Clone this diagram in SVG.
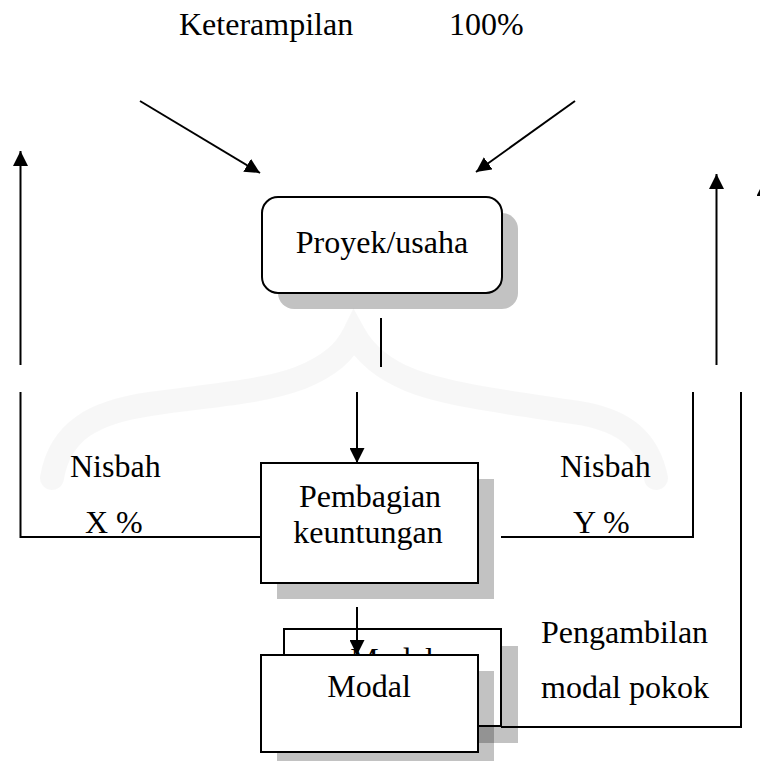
<svg xmlns="http://www.w3.org/2000/svg" width="760" height="761" viewBox="0 0 760 761">
  <style>
    .lbl { font-family: "Liberation Serif", "Times New Roman", serif; font-size: 32px; fill: #000; }
    .mid { text-anchor: middle; }
    .box { fill: #fff; stroke: #000; stroke-width: 2; }
    .shadow { fill: #000; fill-opacity: 0.24; stroke: none; }
    .wire { fill: none; stroke: #000; stroke-width: 2; }
    .arrow { fill: none; stroke: #000; stroke-width: 2; marker-end: url(#head); }
    .mark { fill: none; stroke: #000; stroke-opacity: 0.03; stroke-width: 24; stroke-linecap: round; }
  </style>
  <defs>
    <marker id="head" viewBox="0 0 15 15" refX="15" refY="7.5" markerWidth="15" markerHeight="15" markerUnits="userSpaceOnUse" orient="auto">
      <path d="M0,0 L15,7.5 L0,15 z" fill="#000"/>
    </marker>
    <clipPath id="back-visible">
      <rect x="284" y="629" width="217" height="26"/>
    </clipPath>
  </defs>

  <rect width="760" height="761" fill="#fff"/>

  <!-- faint background emblem -->
  <path class="mark" d="M52,478 C60,430 95,412 150,404 C220,394 262,392 300,378 C330,366 345,352 354,334 C364,352 380,368 410,380 C450,396 520,404 585,414 C625,422 648,440 656,478"/>

  <!-- top inputs -->
  <g id="input-labels">
    <text class="lbl" x="179" y="35">Keterampilan</text>
    <text class="lbl" x="449" y="35">100%</text>
  </g>

  <g id="proyek">
    <rect class="shadow" x="278" y="213" width="240" height="96" rx="16"/>
    <rect class="box" x="262" y="197" width="240" height="96" rx="16"/>
    <text class="lbl mid" x="382" y="253">Proyek/usaha</text>
  </g>

  <g id="pembagian">
    <rect class="shadow" x="277" y="479" width="217" height="120"/>
    <rect class="box" x="261" y="463" width="217" height="120"/>
    <text class="lbl mid" x="370" y="507">Pembagian</text>
    <text class="lbl mid" x="368" y="543">keuntungan</text>
  </g>

  <g id="modal-back">
    <rect class="shadow" x="301" y="646" width="217" height="97"/>
    <rect class="box" x="284" y="629" width="217" height="97"/>
    <text class="lbl mid" x="392" y="670" clip-path="url(#back-visible)">Modal</text>
  </g>

  <g id="modal">
    <rect class="shadow" x="277" y="671" width="217" height="97"/>
    <rect class="box" x="261" y="655" width="217" height="97"/>
    <text class="lbl mid" x="369" y="697">Modal</text>
  </g>

  <g id="nisbah-x">
    <text class="lbl" x="70" y="477">Nisbah</text>
    <text class="lbl" x="85" y="533">X %</text>
  </g>

  <g id="nisbah-y">
    <text class="lbl" x="560" y="477">Nisbah</text>
    <text class="lbl" x="573" y="533">Y %</text>
  </g>

  <g id="pengambilan">
    <text class="lbl" x="541" y="643">Pengambilan</text>
    <text class="lbl" x="541" y="698">modal pokok</text>
  </g>

  <g id="connectors">
    <line class="arrow" x1="140" y1="101" x2="260" y2="173"/>
    <line class="arrow" x1="575" y1="101" x2="476" y2="172"/>
    <line class="wire" x1="381" y1="318" x2="381" y2="367"/>
    <line class="arrow" x1="357" y1="392" x2="357" y2="463"/>
    <line class="arrow" x1="20.5" y1="365" x2="20.5" y2="151"/>
    <line class="arrow" x1="716.5" y1="365" x2="716.5" y2="174"/>
    <line class="arrow" x1="764" y1="365" x2="764" y2="181"/>
    <polyline class="wire" points="20.5,392 20.5,537 261,537"/>
    <polyline class="wire" points="501,537 693,537 693,392"/>
    <line class="arrow" x1="357" y1="607" x2="357" y2="655"/>
    <polyline class="wire" points="501,727 741,727 741,392"/>
  </g>
</svg>
